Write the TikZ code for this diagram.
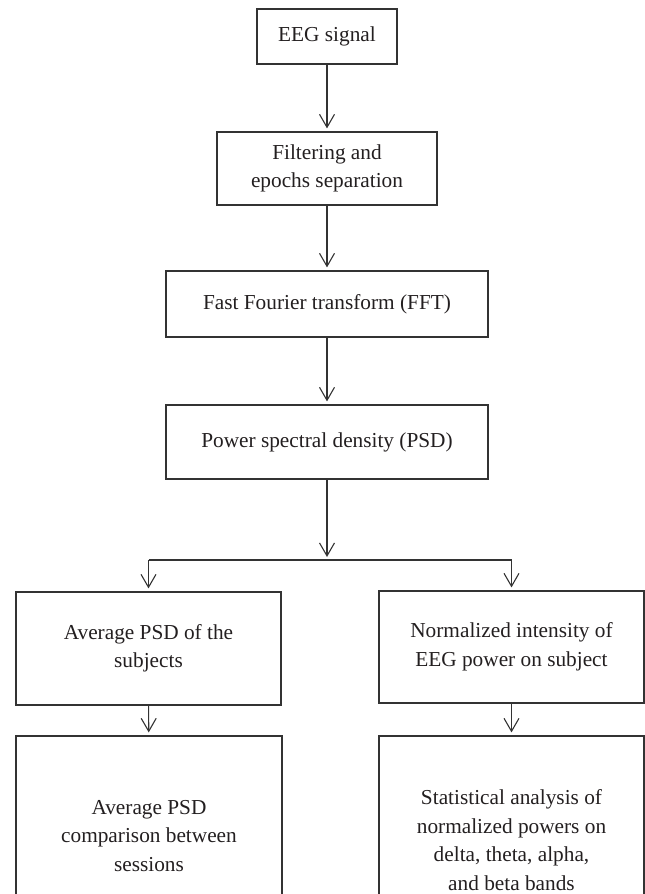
\documentclass[tikz,border=0pt]{standalone}
\usepackage{fontspec}
\setmainfont{Liberation Serif}
\usetikzlibrary{arrows.meta}
\definecolor{linecol}{HTML}{333333}
\definecolor{txtcol}{HTML}{231F20}
\begin{document}
\begin{tikzpicture}[x=1pt,y=-1pt,
  box/.style={draw=linecol, line width=1.2pt, text=txtcol, font=\fontsize{21.3}{28.5}\selectfont, align=center, inner sep=0pt},
  flow/.style={draw=linecol, line width=1.1pt, -{Straight Barb[length=13pt,width=15pt,line width=1.1pt]}, shorten >=3pt},
  plain/.style={draw=linecol, line width=1.1pt}]
\useasboundingbox (0,0) rectangle (645,894);
\clip (0,0) rectangle (645,894);
\node[box, minimum width=140pt, minimum height=55pt] (eeg) at (327,36.5) {EEG signal};
\node[box, minimum width=220pt, minimum height=73pt] (filt) at (327,168.5) {Filtering and\\epochs separation};
\node[box, minimum width=322pt, minimum height=66pt] (fft) at (327,304) {Fast Fourier transform (FFT)};
\node[box, minimum width=322pt, minimum height=74pt] (psd) at (327,442) {Power spectral density (PSD)};
\node[box, minimum width=265pt, minimum height=113pt] (avg) at (148.5,648.5) {Average PSD of the\\subjects};
\node[box, minimum width=265pt, minimum height=112pt] (norm) at (511.5,647) {Normalized intensity of\\EEG power on subject};
\node[box, minimum width=266pt, minimum height=200pt] (cmp) at (149,836) {Average PSD\\comparison between\\sessions};
\node[box, minimum width=265pt, minimum height=208pt] (stat) at (511.5,840) {Statistical analysis of\\normalized powers on\\delta, theta, alpha,\\and beta bands};
\coordinate (fork) at (327,560);
\draw[flow] (eeg) -- (filt);
\draw[flow] (filt) -- (fft);
\draw[flow] (fft) -- (psd);
\draw[flow] (psd) -- (fork);
\draw[plain] (avg.north |- fork) -- (norm.north |- fork);
\draw[flow] (avg.north |- fork) -- (avg);
\draw[flow] (norm.north |- fork) -- (norm);
\draw[flow] (avg) -- (cmp);
\draw[flow] (norm) -- (stat);
\end{tikzpicture}
\end{document}
